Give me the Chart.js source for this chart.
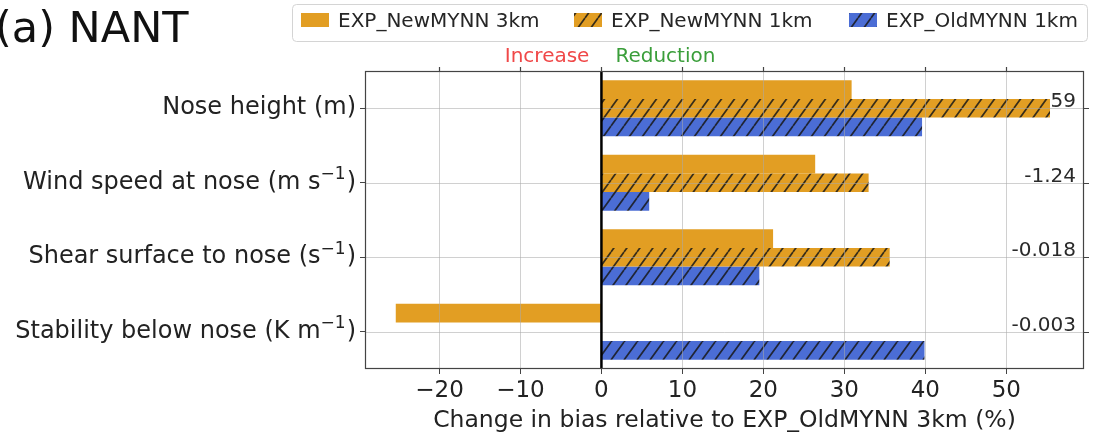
<!DOCTYPE html>
<html>
<head>
<meta charset="utf-8">
<script src="https://cdn.jsdelivr.net/npm/chart.js@4.4.1/dist/chart.umd.min.js"></script>
<style>
  html, body { margin: 0; padding: 0; background: #fff; }
  #wrap { width: 1095px; height: 436px; position: relative; }
</style>
</head>
<body>
<div id="wrap"><canvas id="c" width="1095" height="436"></canvas></div>
<script>
// Bias change of each experiment relative to EXP_OldMYNN 3km (%)
const categories = [
  'Nose height (m)',
  'Wind speed at nose (m s\u207B\u00B9)',
  'Shear surface to nose (s\u207B\u00B9)',
  'Stability below nose (K m\u207B\u00B9)'
];
const newMynn3km = [30.9, 26.4, 21.2, -25.4];
const newMynn1km = [55.4, 33.0, 35.6, null];
const oldMynn1km = [39.6, 5.9, 19.5, 39.9];
// bias of the reference run, printed on the right-hand axis
const refBias = ['59', '-1.24', '-0.018', '-0.003'];
const xTicks = [-20, -10, 0, 10, 20, 30, 40, 50];
const seriesNames = ['EXP_NewMYNN 3km', 'EXP_NewMYNN 1km', 'EXP_OldMYNN 1km'];
const title = '(a) NANT';
const xTitle = 'Change in bias relative to EXP_OldMYNN 3km (%)';

const ORANGE = '#e29e23';
const BLUE = '#4b6dd5';
const FONT = '"DejaVu Sans", sans-serif';
const SUP = '\u207B\u00B9';

const canvas = document.getElementById('c');
const ctx = canvas.getContext('2d');

function hatch(color) {
  const W = 13, H = 18;
  const t = document.createElement('canvas');
  t.width = W; t.height = H;
  const g = t.getContext('2d');
  g.fillStyle = color;
  g.fillRect(0, 0, W, H);
  g.strokeStyle = 'rgba(25,25,25,0.85)';
  g.lineWidth = 1.7;
  g.beginPath();
  for (const dx of [-W, 0, W]) { g.moveTo(dx, H); g.lineTo(dx + W, 0); }
  g.stroke();
  return ctx.createPattern(t, 'repeat');
}
const orangeHatch = hatch(ORANGE);
const blueHatch = hatch(BLUE);
const fills = [ORANGE, orangeHatch, blueHatch];

// category label with a raised "−1" exponent, right-aligned at xr
function drawUnitLabel(ctx, text, xr, yc) {
  const base = '24px ' + FONT, small = '17px ' + FONT;
  const parts = text.split(SUP);
  ctx.textAlign = 'left';
  ctx.textBaseline = 'middle';
  ctx.font = base;
  const w0 = ctx.measureText(parts[0]).width;
  const w2 = parts.length > 1 ? ctx.measureText(parts[1]).width : 0;
  ctx.font = small;
  const w1 = parts.length > 1 ? ctx.measureText('\u22121').width + 1 : 0;
  let xp = xr - (w0 + w1 + w2);
  ctx.font = base;
  ctx.fillText(parts[0], xp, yc);
  if (parts.length > 1) {
    xp += w0;
    ctx.font = small;
    ctx.fillText('\u22121', xp, yc - 8);
    xp += w1;
    ctx.font = base;
    ctx.fillText(parts[1], xp, yc);
  }
}

const overlay = {
  id: 'overlay',
  afterDatasetsDraw(chart) {
    const { ctx, chartArea: a, scales: { x, y } } = chart;
    ctx.save();
    // grid lines on top of the bars
    ctx.strokeStyle = 'rgba(170,170,170,0.55)';
    ctx.lineWidth = 1;
    ctx.beginPath();
    xTicks.forEach(v => {
      const px = Math.round(x.getPixelForValue(v)) + 0.5;
      ctx.moveTo(px, a.top); ctx.lineTo(px, a.bottom);
    });
    categories.forEach((c, i) => {
      const py = Math.round(y.getPixelForValue(i)) + 0.5;
      ctx.moveTo(a.left, py); ctx.lineTo(a.right, py);
    });
    ctx.stroke();

    // zero line
    const x0 = x.getPixelForValue(0);
    ctx.strokeStyle = '#000';
    ctx.lineWidth = 2.5;
    ctx.beginPath();
    ctx.moveTo(x0, a.top); ctx.lineTo(x0, a.bottom);
    ctx.stroke();

    // frame and outer tick marks on top / right
    ctx.strokeStyle = '#444';
    ctx.lineWidth = 1.2;
    ctx.strokeRect(a.left + 0.5, a.top + 0.5, a.right - a.left - 1, a.bottom - a.top - 1);
    ctx.beginPath();
    xTicks.forEach(v => {
      const px = Math.round(x.getPixelForValue(v)) + 0.5;
      ctx.moveTo(px, a.top); ctx.lineTo(px, a.top - 4);
    });
    categories.forEach((c, i) => {
      const py = Math.round(y.getPixelForValue(i)) + 0.5;
      ctx.moveTo(a.right, py); ctx.lineTo(a.right + 5, py);
    });
    ctx.stroke();

    // category labels
    ctx.fillStyle = '#222';
    categories.forEach((c, i) => drawUnitLabel(ctx, c, a.left - 9, y.getPixelForValue(i)));

    // reference bias values
    ctx.fillStyle = '#2a2a2a';
    ctx.font = '20px ' + FONT;
    ctx.textAlign = 'right';
    ctx.textBaseline = 'middle';
    refBias.forEach((t, i) => {
      ctx.fillText(t, a.right - 8, y.getPixelForValue(i) - 6);
    });

    // direction labels
    ctx.font = '20px ' + FONT;
    ctx.textBaseline = 'middle';
    ctx.textAlign = 'right';
    ctx.fillStyle = '#f04848';
    ctx.fillText('Increase', x0 - 12, 57);
    ctx.textAlign = 'left';
    ctx.fillStyle = '#3a9e3a';
    ctx.fillText('Reduction', x0 + 14, 57);

    // x-axis title
    ctx.fillStyle = '#222';
    ctx.font = '23.5px ' + FONT;
    ctx.textAlign = 'center';
    ctx.fillText(xTitle, (a.left + a.right) / 2, 421);

    // panel title
    ctx.font = '43px ' + FONT;
    ctx.textAlign = 'left';
    ctx.textBaseline = 'alphabetic';
    ctx.fillStyle = '#111';
    ctx.fillText(title, -5, 42);

    // legend
    const bx = 292, by = 4, bw = 795, bh = 37;
    ctx.fillStyle = '#fff';
    ctx.strokeStyle = '#d4d4d4';
    ctx.lineWidth = 1;
    ctx.beginPath();
    ctx.roundRect(bx + 0.5, by + 0.5, bw, bh, 4);
    ctx.fill();
    ctx.stroke();
    const patchX = [301, 574, 849];
    ctx.font = '20px ' + FONT;
    ctx.textBaseline = 'middle';
    seriesNames.forEach((n, i) => {
      ctx.fillStyle = fills[i];
      ctx.fillRect(patchX[i], 13, 28, 14);
      ctx.fillStyle = '#262626';
      ctx.fillText(n, patchX[i] + 37, 22);
    });
    ctx.restore();
  }
};

new Chart(canvas, {
  type: 'bar',
  data: {
    labels: categories,
    datasets: [
      { label: seriesNames[0], data: newMynn3km, backgroundColor: fills[0] },
      { label: seriesNames[1], data: newMynn1km, backgroundColor: fills[1] },
      { label: seriesNames[2], data: oldMynn1km, backgroundColor: fills[2] }
    ]
  },
  options: {
    indexAxis: 'y',
    responsive: false,
    animation: false,
    devicePixelRatio: 1,
    categoryPercentage: 0.75,
    barPercentage: 1.0,
    borderWidth: 0,
    layout: { padding: { top: 71, right: 11, left: 0, bottom: 0 } },
    plugins: { legend: { display: false }, tooltip: { enabled: false } },
    scales: {
      x: {
        type: 'linear',
        min: -29.2,
        max: 59.6,
        afterBuildTicks: s => { s.ticks = xTicks.map(v => ({ value: v })); },
        afterFit: s => { s.height = 67; },
        grid: { drawOnChartArea: false, drawTicks: true, tickLength: 5, tickColor: '#444' },
        border: { display: false },
        ticks: {
          font: { family: FONT, size: 23 },
          color: '#222',
          padding: 3,
          maxRotation: 0,
          callback: v => (v < 0 ? '\u2212' + Math.abs(v) : String(v))
        }
      },
      y: {
        type: 'category',
        afterFit: s => { s.width = 365; },
        grid: { offset: false, drawOnChartArea: false, drawTicks: true, tickLength: 5, tickColor: '#444' },
        border: { display: false },
        ticks: { display: false }
      }
    }
  },
  plugins: [overlay]
});
</script>
</body>
</html>
